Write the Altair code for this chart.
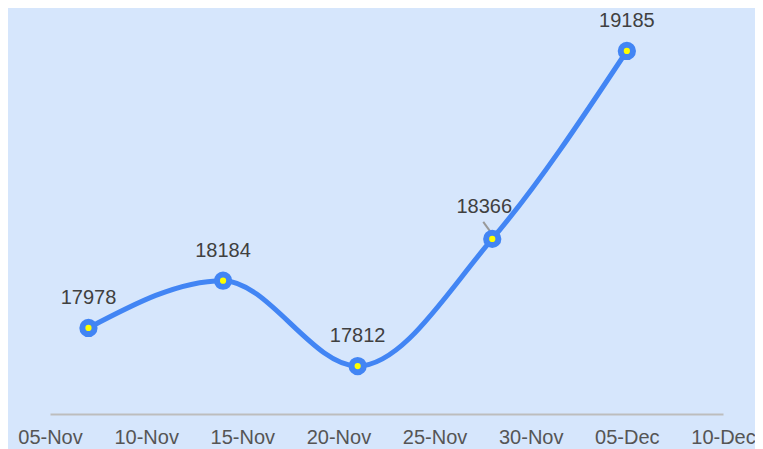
import altair as alt
import pandas as pd

dates = ["2023-11-07", "2023-11-14", "2023-11-21", "2023-11-28", "2023-12-05"]
values = [17978, 18184, 17812, 18366, 19185]
leader = [False, False, False, True, False]
tick_days = [(11, 5), (11, 10), (11, 15), (11, 20), (11, 25), (11, 30), (12, 5), (12, 10)]

df = pd.DataFrame({"date": dates, "value": values, "leader": leader})

tick_values = [alt.DateTime(year=2023, month=m, date=d, utc=True) for m, d in tick_days]

x = alt.X(
    "date:T",
    scale=alt.Scale(type="utc", domain=[alt.DateTime(year=2023, month=11, date=5, utc=True),
                                        alt.DateTime(year=2023, month=12, date=10, utc=True)]),
    axis=alt.Axis(format="%d-%b", values=tick_values, title=None, grid=False, ticks=False,
                  domainColor="#bdbdbd", domainWidth=2, labelFont="Liberation Sans",
                  labelFontSize=20, labelColor="#555555", labelPadding=13, labelFlush=False),
)
y = alt.Y("value:Q", scale=alt.Scale(domain=[17603, 19320], zero=False, nice=False), axis=None)

base = alt.Chart(df).encode(x=x, y=y)

line = base.mark_line(color="#4285F4", strokeWidth=5, interpolate="monotone")
lead = base.transform_filter("datum.leader").mark_rule(
    color="#999999", strokeWidth=2, xOffset=-9, yOffset=-17, x2Offset=-1, y2Offset=-6
).encode(x2="date:T", y2="value:Q")
points = base.mark_point(shape="circle", filled=True, fill="#FFFF00", stroke="#4285F4",
                         strokeWidth=6, size=150, opacity=1)
labels = base.transform_filter("!datum.leader").mark_text(
    font="Liberation Sans", fontSize=20, color="#404040", dy=-30).encode(text="value:Q")
labels_lead = base.transform_filter("datum.leader").mark_text(
    font="Liberation Sans", fontSize=20, color="#404040", dy=-32, dx=-8).encode(text="value:Q")

chart = alt.layer(line, lead, points, labels, labels_lead).properties(
    width=673, height=394,
    padding={"left": 42, "top": 12, "right": 32, "bottom": 45},
    autosize=alt.AutoSizeParams(type="none"),
    background="#D6E6FC",
).configure_view(stroke=None)

chart.save("out.html", embed_options={"renderer": "svg", "actions": False})
